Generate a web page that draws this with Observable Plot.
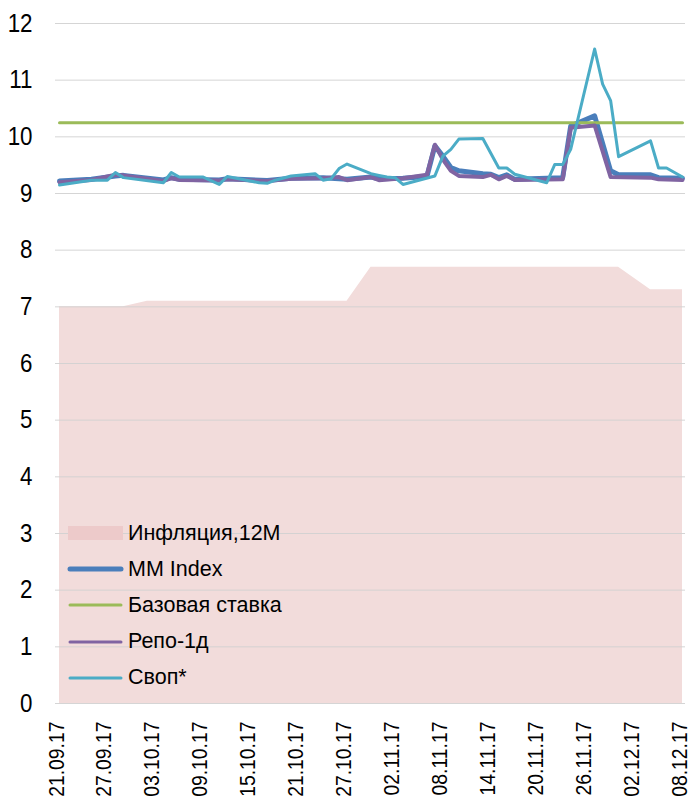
<!DOCTYPE html>
<html>
<head>
<meta charset="utf-8">
<script src="https://cdn.jsdelivr.net/npm/d3@7"></script>
<script src="https://cdn.jsdelivr.net/npm/@observablehq/plot@0.6"></script>
<style>
  body { margin: 0; background: #fff; }
  #wrap { position: relative; width: 691px; height: 798px; font-family: 'Liberation Sans', Arial, sans-serif; }
  #legend { position: absolute; left: 66px; top: 515px; }
  .row { display: flex; align-items: center; height: 36.2px; font-size: 21.5px; color: #000; }
  .row svg { width: 60px; height: 20px; margin-right: 2px; }
</style>
</head>
<body>
<div id="wrap"></div>
<script>
// ---- data ----
const tickLabels = ["21.09.17","27.09.17","03.10.17","09.10.17","15.10.17","21.10.17","27.10.17","02.11.17","08.11.17","14.11.17","20.11.17","26.11.17","02.12.17","08.12.17"];
const yTicks = [0,1,2,3,4,5,6,7,8,9,10,11,12];

const inflDates  = ["21.09.17","29.09.17","02.10.17","27.10.17","30.10.17","30.11.17","04.12.17","08.12.17"];
const inflValues = [7.0, 7.0, 7.1, 7.1, 7.7, 7.7, 7.3, 7.3];

const baseDates  = ["21.09.17","08.12.17"];
const baseValues = [10.25, 10.25];

const mmDates  = ["21.09.17","25.09.17","28.09.17","29.09.17","04.10.17","05.10.17","06.10.17","11.10.17","12.10.17","17.10.17","20.10.17","24.10.17","27.10.17","30.10.17","31.10.17","03.11.17","06.11.17","07.11.17","08.11.17","09.11.17","10.11.17","13.11.17","14.11.17","15.11.17","16.11.17","17.11.17","23.11.17","24.11.17","27.11.17","29.11.17","30.11.17","04.12.17","05.12.17","08.12.17"];
const mmValues = [9.22, 9.25, 9.31, 9.32, 9.24, 9.28, 9.25, 9.24, 9.26, 9.23, 9.27, 9.28, 9.25, 9.29, 9.26, 9.27, 9.30, 9.84, 9.66, 9.46, 9.40, 9.35, 9.34, 9.28, 9.33, 9.25, 9.28, 10.19, 10.37, 9.40, 9.33, 9.33, 9.28, 9.27];

const repoDates  = ["21.09.17","25.09.17","28.09.17","29.09.17","04.10.17","05.10.17","06.10.17","11.10.17","12.10.17","17.10.17","20.10.17","24.10.17","26.10.17","27.10.17","30.10.17","31.10.17","03.11.17","06.11.17","07.11.17","08.11.17","09.11.17","10.11.17","13.11.17","14.11.17","15.11.17","16.11.17","17.11.17","23.11.17","24.11.17","27.11.17","29.11.17","04.12.17","05.12.17","08.12.17"];
const repoValues = [9.20, 9.24, 9.33, 9.32, 9.22, 9.27, 9.24, 9.23, 9.25, 9.22, 9.26, 9.27, 9.29, 9.235, 9.29, 9.235, 9.27, 9.33, 9.86, 9.60, 9.40, 9.31, 9.29, 9.33, 9.25, 9.31, 9.24, 9.25, 10.16, 10.20, 9.29, 9.28, 9.25, 9.24];

const swapDates  = ["21.09.17","25.09.17","27.09.17","28.09.17","29.09.17","04.10.17","05.10.17","06.10.17","09.10.17","11.10.17","12.10.17","16.10.17","17.10.17","18.10.17","20.10.17","23.10.17","24.10.17","25.10.17","26.10.17","27.10.17","30.10.17","31.10.17","01.11.17","02.11.17","03.11.17","07.11.17","08.11.17","09.11.17","10.11.17","13.11.17","15.11.17","16.11.17","17.11.17","21.11.17","22.11.17","23.11.17","24.11.17","27.11.17","28.11.17","29.11.17","30.11.17","04.12.17","05.12.17","06.12.17","07.12.17","08.12.17"];
const swapValues = [9.15, 9.235, 9.235, 9.37, 9.28, 9.19, 9.37, 9.29, 9.29, 9.16, 9.30, 9.19, 9.18, 9.235, 9.31, 9.35, 9.235, 9.26, 9.44, 9.52, 9.35, 9.32, 9.29, 9.28, 9.16, 9.31, 9.66, 9.78, 9.96, 9.97, 9.45, 9.45, 9.34, 9.19, 9.51, 9.51, 9.78, 11.55, 10.93, 10.64, 9.65, 9.93, 9.45, 9.45, 9.37, 9.29];

const seriesNames = ["Инфляция,12M", "MM Index", "Базовая ставка", "Репо-1д", "Своп*"];
const seriesColors = ["#f2dcdb", "#4a7ebb", "#9bbb59", "#8064a2", "#4bacc6"];

// ---- build ----
const parse = d3.utcParse("%d.%m.%y");
const fmt = d3.utcFormat("%d.%m.%y");
const toRows = (ds, vs) => ds.map((d, i) => ({date: parse(d), value: vs[i]}));
const infl = toRows(inflDates, inflValues);
const base = toRows(baseDates, baseValues);
const mm = toRows(mmDates, mmValues);
const repo = toRows(repoDates, repoValues);
const swap = toRows(swapDates, swapValues);
const tickDates = tickLabels.map(parse);

const chart = Plot.plot({
  width: 691,
  height: 798,
  marginLeft: 55,
  marginRight: 6,
  marginTop: 23,
  marginBottom: 95,
  style: {fontFamily: "'Liberation Sans', Arial, sans-serif", background: "#fff", color: "#000", overflow: "visible"},
  x: {type: "utc", domain: [parse("21.09.17"), parse("08.12.17")], insetLeft: 4, insetRight: 3},
  y: {domain: [0, 12]},
  marks: [
    Plot.areaY(infl, {x: "date", y: "value", fill: seriesColors[0], curve: "linear"}),
    Plot.gridY(yTicks, {stroke: "#d0d0d0", strokeOpacity: 0.9, strokeWidth: 1}),
    Plot.lineY(mm, {x: "date", y: "value", stroke: seriesColors[1], strokeWidth: 5, strokeLinejoin: "round", strokeLinecap: "round"}),
    Plot.lineY(base, {x: "date", y: "value", stroke: seriesColors[2], strokeWidth: 3, strokeLinecap: "round"}),
    Plot.lineY(repo, {x: "date", y: "value", stroke: seriesColors[3], strokeWidth: 4, strokeLinejoin: "round", strokeLinecap: "round"}),
    Plot.lineY(swap, {x: "date", y: "value", stroke: seriesColors[4], strokeWidth: 3, strokeLinejoin: "round", strokeLinecap: "round"}),
    Plot.axisY(yTicks, {tickSize: 0, tickPadding: 23, fontSize: 26, tickFormat: d => String(d), label: null}),
    Plot.axisX(tickDates, {tickSize: 0, tickPadding: 18, tickRotate: -90, fontSize: 22, dx: -3, tickFormat: fmt, label: null})
  ]
});

const wrap = document.getElementById("wrap");
wrap.appendChild(chart);

// narrow the axis glyphs along the text direction, as the reference's labels are
function squeeze(selector, k) {
  chart.querySelectorAll(selector).forEach(t => {
    const L = t.getComputedTextLength();
    if (L > 0) {
      t.setAttribute("textLength", (L * k).toFixed(2));
      t.setAttribute("lengthAdjust", "spacingAndGlyphs");
    }
  });
}
squeeze('g[aria-label="x-axis tick label"] text', 0.88);
squeeze('g[aria-label="y-axis tick label"] text', 0.86);

// legend overlay
const legend = document.createElement("div");
legend.id = "legend";
const widths = [null, 5, 3, 3, 3];
seriesNames.forEach((name, i) => {
  const row = document.createElement("div");
  row.className = "row";
  const sw = i === 0
    ? `<svg viewBox="0 0 60 20"><rect x="2" y="3" width="55" height="14" fill="#edcaca"/></svg>`
    : `<svg viewBox="0 0 60 20"><line x1="4" y1="10" x2="55" y2="10" stroke="${seriesColors[i]}" stroke-width="${widths[i]}" stroke-linecap="round"/></svg>`;
  row.innerHTML = sw + `<span>${name}</span>`;
  legend.appendChild(row);
});
wrap.appendChild(legend);
</script>
</body>
</html>
